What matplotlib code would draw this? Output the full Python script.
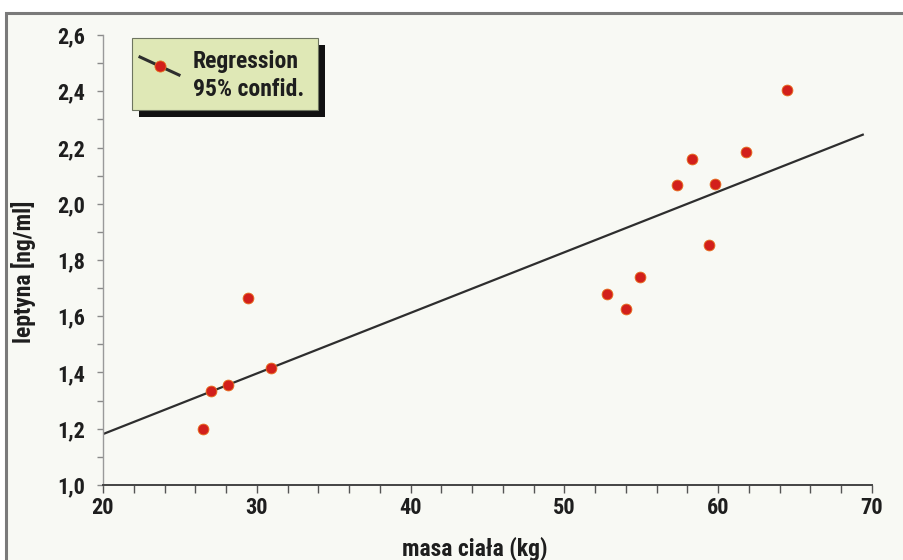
import matplotlib
matplotlib.use("Agg")
import matplotlib.pyplot as plt
import numpy as np
from matplotlib.patches import Rectangle
from matplotlib.lines import Line2D
from matplotlib.ticker import MultipleLocator, FuncFormatter

# ---- data ----
masa = [26.5, 27.0, 28.1, 29.4, 30.9, 52.8, 54.0, 54.9, 57.3, 58.3, 59.4, 59.8, 61.8, 64.5]
leptyna = [1.20, 1.335, 1.355, 1.665, 1.415, 1.68, 1.625, 1.74, 2.065, 2.16, 1.855, 2.07, 2.185, 2.405]
reg_x = [20.0, 69.4]
reg_intercept = 1.181   # value at x = 20
reg_slope = 0.02155
legend_labels = ["Regression", "95% confid."]
xlabel = "masa ciała (kg)"
ylabel = "leptyna [ng/ml]"

FONT = ['Roboto Condensed', 'DejaVu Sans']
plt.rcParams['font.family'] = FONT
plt.rcParams['font.stretch'] = 'condensed'
WEIGHT = 'black'
TXT = '#1e1e1e'

BG = '#f8f9f4'
fig = plt.figure(figsize=(9.04, 5.6), dpi=100)
fig.patch.set_facecolor('white')
fig.patches.append(Rectangle((6/904, -0.01), 1, 1.01 - 13/560, transform=fig.transFigure,
                             facecolor=BG, edgecolor='#7a7a7a', linewidth=2.2, zorder=-5))

ax = fig.add_axes([103/904, 1 - 485/560, (872 - 103)/904, (485 - 35)/560])
ax.set_facecolor('none')
ax.set_xlim(20, 70)
ax.set_ylim(1.0, 2.6)

for s in ['top', 'right']:
    ax.spines[s].set_visible(False)
ax.spines['left'].set_color('#9a9a9a')
ax.spines['left'].set_linewidth(1.0)
ax.spines['bottom'].set_color('#444444')
ax.spines['bottom'].set_linewidth(1.4)

ax.xaxis.set_major_locator(MultipleLocator(10))
ax.xaxis.set_minor_locator(MultipleLocator(2))
ax.yaxis.set_major_locator(MultipleLocator(0.2))
ax.yaxis.set_minor_locator(MultipleLocator(0.1))
ax.yaxis.set_major_formatter(FuncFormatter(lambda v, p: f"{v:.1f}".replace('.', ',')))
ax.xaxis.set_major_formatter(FuncFormatter(lambda v, p: f"{v:.0f}"))

ax.tick_params(axis='x', which='both', direction='out', length=6, width=1.0,
               color='#555555', labelsize=16, pad=3, labelcolor=TXT)
ax.tick_params(axis='y', which='both', direction='out', length=4, width=1.0,
               color='#8a8a8a', labelsize=16, pad=9, labelcolor=TXT)
for lab in ax.get_xticklabels() + ax.get_yticklabels():
    lab.set_fontweight(WEIGHT)

# regression line
rx = np.array(reg_x)
ry = reg_intercept + reg_slope * (rx - 20.0)
ax.plot(rx, ry, color='#2e2e2e', linewidth=1.6, zorder=2)

# points
ax.plot(masa, leptyna, linestyle='none', marker='o', markersize=7.8,
        markerfacecolor='#d21f1b', markeredgecolor='#e8701e', markeredgewidth=0.6,
        zorder=3, clip_on=False)

W, H = 904, 560
def fx(px): return px / W
def fy(py): return 1 - py / H

# axis labels
fig.text(fx(475), fy(549), xlabel, fontsize=17, fontweight=WEIGHT, color=TXT,
         ha='center', va='center')
fig.text(fx(23), fy(272), ylabel, fontsize=17, fontweight=WEIGHT, color=TXT,
         ha='center', va='center', rotation=90)

# legend box with shadow
bx0, by0, bx1, by1 = 132, 38, 318, 110
fig.patches.append(Rectangle((fx(bx0 + 7), fy(by1 + 7)), fx(bx1 - bx0), (by1 - by0) / H,
                             transform=fig.transFigure, facecolor='#111111', edgecolor='none', zorder=5))
fig.patches.append(Rectangle((fx(bx0), fy(by1)), fx(bx1 - bx0), (by1 - by0) / H,
                             transform=fig.transFigure, facecolor='#dfe8b6', edgecolor='#6e7560',
                             linewidth=0.8, zorder=6))
fig.add_artist(Line2D([fx(140), fx(179)], [fy(57), fy(75)], transform=fig.transFigure,
                      color='#2e2e2e', linewidth=2.2, zorder=7))
fig.add_artist(Line2D([fx(160)], [fy(66)], transform=fig.transFigure, marker='o', markersize=8,
                      markerfacecolor='#d21f1b', markeredgecolor='#e8701e', markeredgewidth=0.6,
                      linestyle='none', zorder=8))
fig.text(fx(193), fy(61), legend_labels[0], fontsize=17, fontweight=WEIGHT, color=TXT,
         va='center', ha='left', zorder=9)
fig.text(fx(193), fy(90), legend_labels[1], fontsize=17, fontweight=WEIGHT, color=TXT,
         va='center', ha='left', zorder=9)

fig.savefig('out.png', dpi=100, facecolor=fig.get_facecolor())
